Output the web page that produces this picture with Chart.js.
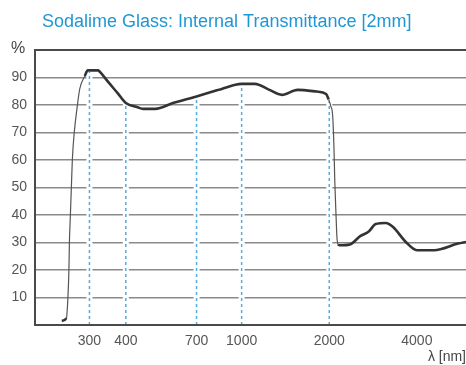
<!DOCTYPE html>
<html>
<head>
<meta charset="utf-8">
<script src="https://cdn.jsdelivr.net/npm/chart.js@4.4.0/dist/chart.umd.min.js"></script>
<style>
  html, body { margin: 0; padding: 0; background: #ffffff; }
  #wrap { width: 466px; height: 365px; }
</style>
</head>
<body>
<div id="wrap"><canvas id="transChart" width="466" height="365"></canvas></div>
<script>
// ---- data ----
const chartTitle = "Sodalime Glass: Internal Transmittance [2mm]";

// wavelength (nm) of the curve points
const wavelengths = [241, 250, 253, 255, 256, 258, 260, 262, 266, 272, 278, 289, 296, 321, 325, 349, 375, 400, 439, 458, 505, 581, 700, 833, 952, 1000, 1111, 1240, 1375, 1557, 1809, 1950, 1990, 2026, 2055, 2075, 2090, 2110, 2125, 2145, 2170, 2354, 2555, 2734, 2887, 3132, 3306, 3687, 4000, 4581, 5542, 5900];
// internal transmittance (%)
const transmittance = [1.5, 2.5, 10, 20, 30, 40, 50, 60, 70, 79, 86, 90.5, 92.6, 92.6, 92.2, 88.2, 84.3, 80.7, 79.2, 78.6, 78.6, 80.7, 83.1, 85.5, 87.4, 87.7, 87.7, 85.6, 83.7, 85.5, 84.9, 84, 82, 79.5, 76, 65, 52, 40, 32, 29.3, 29, 29.3, 32.3, 34, 36.7, 37.1, 35.7, 29.9, 27.2, 27.2, 29.6, 30.2];

// dashed marker lines
const markerWavelengths = [300, 400, 700, 1000, 2000];
const markerTops = [92, 80.7, 83.1, 87.7, 81.5];

// axis ticks
const xTicks = [300, 400, 700, 1000, 2000, 4000];
const yTicks = [10, 20, 30, 40, 50, 60, 70, 80, 90];

// ---- build datasets ----
const curve = wavelengths.map((w, i) => ({ x: w, y: transmittance[i] }));

const markerLines = markerWavelengths.map((w, i) => ({
    data: [{ x: w, y: 0 }, { x: w, y: markerTops[i] }],
    borderColor: "#55aae0",
    borderWidth: 1.5,
    borderDash: [3, 3],
    pointRadius: 0
}));

// white band behind each marker so the grid looks broken there
const markerHalos = markerWavelengths.map((w, i) => ({
    data: [{ x: w, y: 0 }, { x: w, y: markerTops[i] }],
    borderColor: "#ffffff",
    borderWidth: 6,
    pointRadius: 0
}));

const steep = (ctx) => Math.abs(ctx.p1.y - ctx.p0.y) > 2.5 * Math.abs(ctx.p1.x - ctx.p0.x);

// frame + free texts
const decorPlugin = {
    id: "decor",
    afterDatasetsDraw(chart) {
        const { ctx, chartArea: a } = chart;
        ctx.save();
        ctx.strokeStyle = "#4a4a4a";
        ctx.lineWidth = 2;
        ctx.beginPath();
        ctx.moveTo(a.right + 2, a.top);
        ctx.lineTo(a.left, a.top);
        ctx.lineTo(a.left, a.bottom);
        ctx.lineTo(a.right + 2, a.bottom);
        ctx.stroke();
        ctx.restore();
    },
    afterDraw(chart) {
        const { ctx } = chart;
        ctx.save();
        ctx.fillStyle = "#1f97d4";
        ctx.font = "18px 'Liberation Sans', Arial, sans-serif";
        ctx.textBaseline = "alphabetic";
        ctx.textAlign = "left";
        ctx.fillText(chartTitle, 42, 27);

        ctx.fillStyle = "#444444";
        ctx.font = "16px 'Liberation Sans', Arial, sans-serif";
        ctx.fillText("%", 11, 53);

        ctx.font = "14px 'Liberation Sans', Arial, sans-serif";
        ctx.textAlign = "right";
        ctx.fillText("λ [nm]", 466, 361);
        ctx.restore();
    }
};

new Chart(document.getElementById("transChart"), {
    type: "line",
    data: {
        datasets: [
            {
                data: curve,
                borderColor: "#333333",
                borderWidth: 2.6,
                pointRadius: 0,
                cubicInterpolationMode: "monotone",
                segment: {
                    borderWidth: ctx => steep(ctx) ? 1.2 : undefined,
                    borderColor: ctx => steep(ctx) ? "#555555" : undefined
                }
            },
            ...markerLines,
            ...markerHalos
        ]
    },
    options: {
        responsive: false,
        animation: false,
        devicePixelRatio: 1,
        layout: { padding: { top: 50, left: 0, right: 0, bottom: 0 } },
        plugins: {
            legend: { display: false },
            title: { display: false },
            tooltip: { enabled: false }
        },
        scales: {
            x: {
                type: "logarithmic",
                min: 195,
                max: 5900,
                afterBuildTicks: s => { s.ticks = xTicks.map(v => ({ value: v })); },
                afterFit: s => { s.height = 40; },
                grid: { display: false, drawTicks: false },
                border: { display: false },
                ticks: {
                    color: "#555555",
                    font: { family: "'Liberation Sans', Arial, sans-serif", size: 14 },
                    padding: 8,
                    maxRotation: 0,
                    autoSkip: false,
                    callback: v => String(v)
                }
            },
            y: {
                type: "linear",
                min: 0,
                max: 100,
                afterBuildTicks: s => { s.ticks = yTicks.map(v => ({ value: v })); },
                afterFit: s => { s.width = 35; },
                grid: { color: "#8a8a8a", lineWidth: 1.5, drawTicks: false },
                border: { display: false },
                ticks: {
                    color: "#555555",
                    font: { family: "'Liberation Sans', Arial, sans-serif", size: 14 },
                    padding: 8
                }
            }
        }
    },
    plugins: [decorPlugin]
});
</script>
</body>
</html>
